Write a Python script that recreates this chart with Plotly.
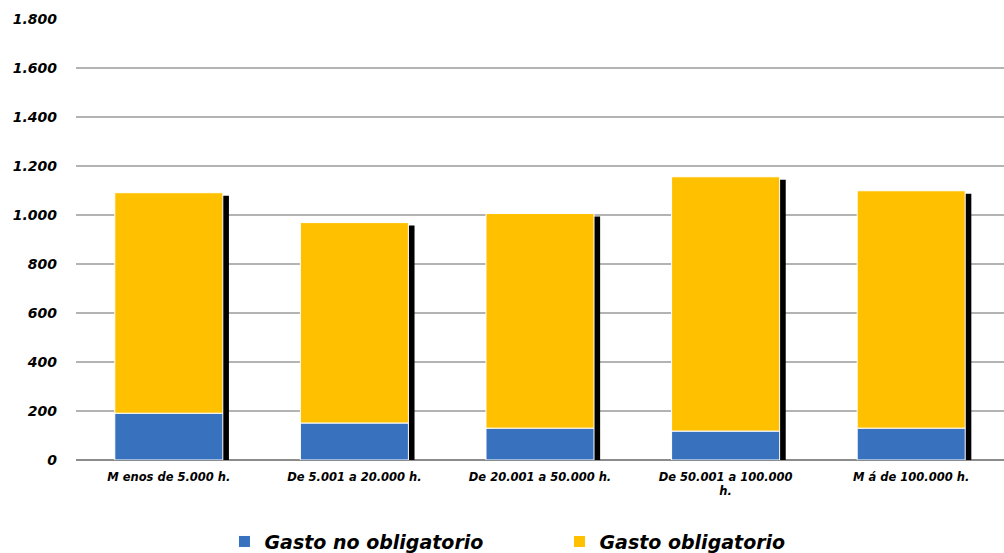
import plotly.graph_objects as go

categories = ["M enos de 5.000 h.", "De 5.001 a 20.000 h.", "De 20.001 a 50.000 h.",
              "De 50.001 a 100.000<br>h.", "M á de 100.000 h."]
gasto_no_obligatorio = [191, 151, 130, 118, 130]
gasto_obligatorio = [900, 818, 876, 1038, 969]
y_ticks = [0, 200, 400, 600, 800, 1000, 1200, 1400, 1600, 1800]

totals = [a + b for a, b in zip(gasto_no_obligatorio, gasto_obligatorio)]
x = list(range(len(categories)))

BAR_W = 0.582
SHADOW_DX = 0.033
SHADOW_DY = 12

FONT = "DejaVu Sans"

fig = go.Figure()

# shadow
fig.add_trace(go.Bar(
    x=x, y=totals, base=[-SHADOW_DY] * len(x), width=BAR_W, offset=-BAR_W / 2 + SHADOW_DX,
    marker=dict(color="black", line=dict(width=0)), showlegend=False, hoverinfo="skip"))

fig.add_trace(go.Bar(
    x=x, y=gasto_no_obligatorio, base=[0] * len(x), width=BAR_W, offset=-BAR_W / 2,
    name="Gasto no obligatorio",
    marker=dict(color="#3872BF", line=dict(color="white", width=1))))

fig.add_trace(go.Bar(
    x=x, y=gasto_obligatorio, base=gasto_no_obligatorio, width=BAR_W, offset=-BAR_W / 2,
    name="Gasto obligatorio",
    marker=dict(color="#FFC000", line=dict(color="white", width=1))))

fig.update_layout(
    width=1004, height=553,
    margin=dict(l=76, r=0, t=19, b=93, autoexpand=False),
    barmode="overlay",
    plot_bgcolor="white", paper_bgcolor="white",
    separators=",.",
    showlegend=True,
    legend=dict(orientation="h", x=0.16, xanchor="left", y=-0.142, yanchor="top",
                font=dict(family=FONT, size=19, color="black", weight="bold", style="italic"),
                entrywidth=290, entrywidthmode="pixels", traceorder="normal"),
    font=dict(family=FONT, color="black"),
)

fig.update_xaxes(
    range=[-0.5, len(categories) - 0.5],
    tickvals=x, ticktext=categories, automargin=False,
    tickfont=dict(family=FONT, size=11.5, color="black", weight="bold", style="italic"),
    showgrid=False, showline=False, zeroline=False, ticks="",
    ticklabelstandoff=8, fixedrange=True,
)

fig.update_yaxes(
    range=[0, 1800], tickvals=y_ticks, tickformat=",d", automargin=False,
    tickfont=dict(family=FONT, size=14, color="black", weight="bold", style="italic"),
    showgrid=True, gridcolor="#B3B3B3", gridwidth=1.5,
    zeroline=True, zerolinecolor="#8C8C8C", zerolinewidth=1.5,
    showline=False, ticks="", ticklabelstandoff=18, fixedrange=True,
)

fig.write_html("out.html")
